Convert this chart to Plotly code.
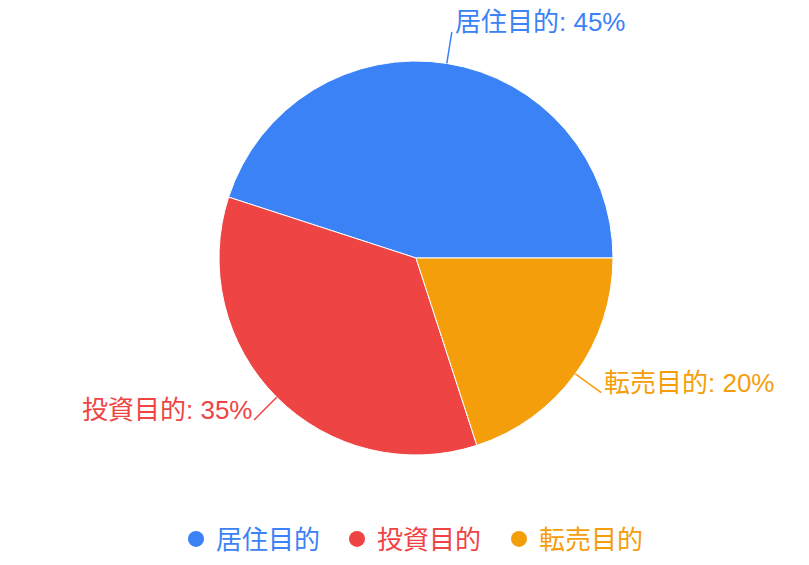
import math
import plotly.graph_objects as go

labels = ["居住目的", "投資目的", "転売目的"]
values = [45, 35, 20]
colors = ["#3B82F6", "#EF4444", "#F59E0B"]

W, H = 809, 565
CX, CY, R = 416, 258, 197   # pie centre / radius in px
LINE_LEN = 32
FONT = "Liberation Sans, Arial, Noto Sans CJK JP, sans-serif"
FSIZE = 26

total = sum(values)

fig = go.Figure()
fig.add_trace(go.Pie(
    labels=labels, values=values, sort=False,
    direction="counterclockwise", rotation=90 - 360 * values[0] / total,
    marker=dict(colors=colors, line=dict(color="white", width=1)),
    textinfo="none", showlegend=False, hoverinfo="label+percent",
    domain=dict(x=[(CX - R) / W, (CX + R) / W],
                y=[1 - (CY + R) / H, 1 - (CY - R) / H]),
))

# leader lines + labels from slice mid-angles (first slice starts at 3 o'clock, counter-clockwise)
cum = 0
shapes, annos = [], []
for lab, v, c in zip(labels, values, colors):
    mid = (cum + v / 2) / total * 2 * math.pi
    cum += v
    ca, sa = math.cos(mid), math.sin(mid)
    x0, y0 = CX + R * ca, CY - R * sa
    x1, y1 = CX + (R + LINE_LEN) * ca, CY - (R + LINE_LEN) * sa
    shapes.append(dict(type="line", xref="paper", yref="paper",
                       x0=x0 / W, y0=1 - y0 / H, x1=x1 / W, y1=1 - y1 / H,
                       line=dict(color=c, width=1.5)))
    left = ca >= 0
    annos.append(dict(xref="paper", yref="paper",
                      x=(x1 + 1) / W, y=1 - (y1 - 10) / H,
                      xanchor="left" if left else "right", yanchor="middle",
                      text=f"{lab}: {round(v / total * 100)}%", showarrow=False,
                      font=dict(color=c, size=FSIZE, family=FONT)))

# legend entries
legend_x = [176, 337, 499]
for i, (lab, c) in enumerate(zip(labels, colors)):
    key = "legend" if i == 0 else f"legend{i + 1}"
    fig.add_trace(go.Scatter(x=[None], y=[None], mode="markers", name=lab,
                             marker=dict(color=c, size=22, symbol="circle"),
                             legend=key, showlegend=True, hoverinfo="skip"))

layout = dict(
    width=W, height=H, margin=dict(l=0, r=0, t=0, b=0),
    paper_bgcolor="white", plot_bgcolor="white",
    xaxis=dict(visible=False), yaxis=dict(visible=False),
    shapes=shapes, annotations=annos,
)
for i, c in enumerate(colors):
    key = "legend" if i == 0 else f"legend{i + 1}"
    layout[key] = dict(x=legend_x[i] / W, y=1 - 539 / H, xanchor="left", yanchor="middle",
                       orientation="h", bgcolor="rgba(0,0,0,0)",
                       font=dict(color=c, size=FSIZE, family=FONT), itemsizing="trace")
fig.update_layout(**layout)
fig.write_html("out.html", config={"displayModeBar": False},
               post_script="document.body.style.margin='0';")
